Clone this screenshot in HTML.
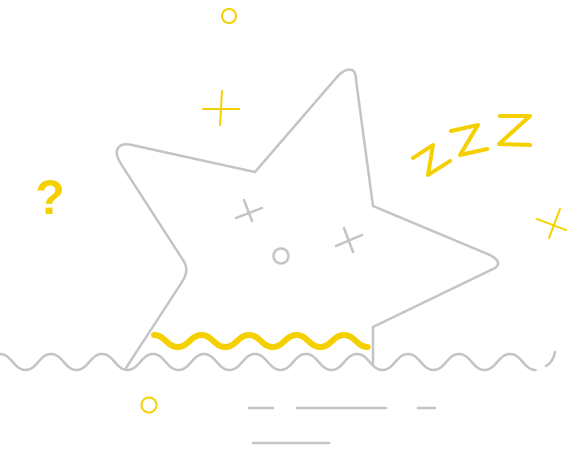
<!DOCTYPE html>
<html><head><meta charset="utf-8"><style>
html,body{margin:0;padding:0;background:#fff;width:570px;height:474px;overflow:hidden}
svg{display:block}
</style></head><body>
<svg width="570" height="474" viewBox="0 0 570 474" xmlns="http://www.w3.org/2000/svg">
<g fill="none" stroke="#c4c4c4" stroke-width="2.5" stroke-linecap="round" stroke-linejoin="round">
  <path d="M126,368 L182,282 Q190,270 183,260 L121,164 Q113,151 120,146 Q124,143 132,145 L255,172 L337,77 Q345,68 352,70 Q356,72 356,80 L373,206 L490,255 Q503,262 495,268 L373,327 L373,363"/>
  <path id="gw" d=""/>
  <circle cx="281" cy="256" r="7.5"/>
  <path d="M244,200 L252,221 M236,218 L262,208"/>
  <path d="M344,228 L353,252 M336,246 L362,235"/>
  <path d="M249,408 L273,408 M297,408 L386,408 M418,408 L435,408 M253,443 L329,443"/>
</g>
<g fill="none" stroke="#f5d000" stroke-linecap="round" stroke-linejoin="round">
  <path id="yw" stroke-width="6" d=""/>
  <circle cx="229" cy="16" r="7" stroke-width="2"/>
  <circle cx="149" cy="405" r="7.5" stroke-width="2"/>
  <path stroke-width="2" d="M203,109 L239,109 M222,91 L220,125"/>
  <path stroke-width="2" d="M537,219 L566,230 M560,209 L549,238"/>
  <path stroke-width="4" d="M413,158 L433,145 L428,175 L450,161"/>
  <path stroke-width="4" d="M451,131 L478,125 L460,155 L487,149"/>
  <path stroke-width="4" d="M500,116 L530,116 L499,144 L530,145"/>
</g>
<text x="50" y="214" text-anchor="middle" font-family="Liberation Sans, sans-serif" font-weight="bold" font-size="48" fill="#f5d000">?</text>
</svg>
<script>
function wave(x0,x1,period,yTop,yBot,startHigh){
  var h=period/2;
  var y=startHigh?yTop:yBot;
  var d='M'+x0+','+y;
  for(var x=x0;x+h<=x1+1;x+=h){
    var ny=(y===yTop)?yBot:yTop;
    d+=' C'+(x+h*0.45)+','+y+' '+(x+h*0.55)+','+ny+' '+(x+h)+','+ny;
    y=ny;
  }
  return d;
}
var gw=document.getElementById('gw');
gw.setAttribute('d',wave(0,536,51,354,370,true)+' M546,366 Q553,362 555,352');
var yw=document.getElementById('yw');
yw.setAttribute('d',wave(154,370,47.5,335,347,true));
</script>
</body></html>
